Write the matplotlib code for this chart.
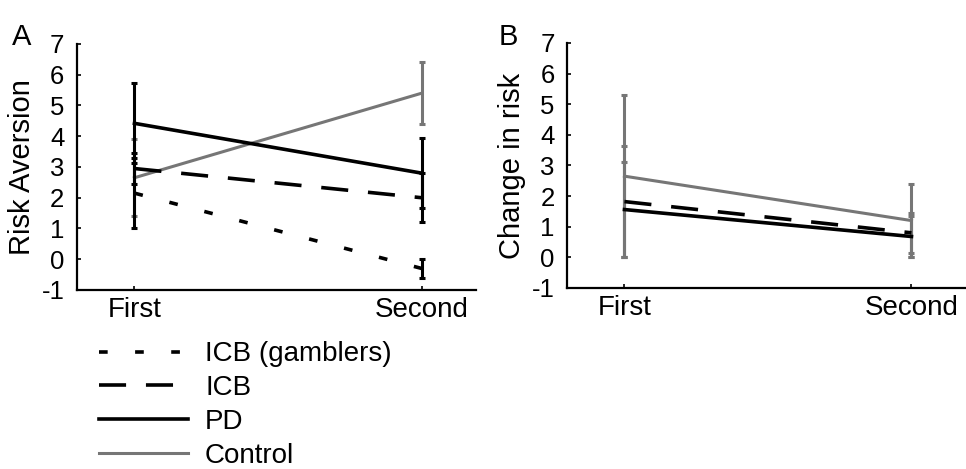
import matplotlib.pyplot as plt
import matplotlib as mpl

mpl.rcParams['font.family'] = ['Liberation Sans', 'DejaVu Sans']
mpl.rcParams['axes.unicode_minus'] = False

sessions = ['First', 'Second']
x = [1, 2]

# panel A: risk aversion
gamb_a = [2.15, -0.3]
gamb_a_err = [1.15, 0.3]
icb_a = [2.95, 2.0]
icb_a_err = [0.5, 0.8]
pd_a = [4.42, 2.8]
pd_a_err = [1.3, 1.15]
ctrl_a = [2.65, 5.4]
ctrl_a_err = [1.25, 1.0]

# panel B: change in risk
icb_b = [1.82, 0.8]
icb_b_err = [1.82, 0.65]
pd_b = [1.56, 0.68]
pd_b_err = [1.56, 0.68]
ctrl_b = [2.65, 1.2]
ctrl_b_err = [2.65, 1.2]

gray = '#767676'
dotted = (0, (2.4, 7.6))
dashed = (0, (7.5, 5.5))

fig = plt.figure(figsize=(9.66, 4.69), dpi=100)
ax1 = fig.add_axes([0.0797, 0.3817, 0.4133, 0.5245])
ax2 = fig.add_axes([0.587, 0.386, 0.413, 0.5225])

def style(ax, ylabel):
    ax.set_xlim(0.8, 2.19)
    ax.set_ylim(-1, 7)
    ax.set_yticks(range(-1, 8))
    ax.set_xticks(x)
    ax.set_xticklabels(sessions)
    for s in ['top', 'right']:
        ax.spines[s].set_visible(False)
    for s in ['left', 'bottom']:
        ax.spines[s].set_linewidth(1.6)
    ax.tick_params(direction='in', length=3, width=1.2)
    ax.tick_params(axis='x', labelsize=20, pad=5)
    ax.tick_params(axis='y', labelsize=18.5, pad=9)
    ax.set_ylabel(ylabel, fontsize=21, labelpad=4)

eb = dict(capsize=2.5, elinewidth=2.2, capthick=2.2)

l1 = ax1.errorbar(x, gamb_a, yerr=gamb_a_err, color='black', lw=2.6, ls=dotted, **eb)
l1[-1][0].set_linestyle('-')
l2 = ax1.errorbar(x, icb_a, yerr=icb_a_err, color='black', lw=2.6, ls=dashed, **eb)
l2[-1][0].set_linestyle('-')
l4 = ax1.errorbar(x, ctrl_a, yerr=ctrl_a_err, color=gray, lw=2.2, zorder=1, **eb)
l3 = ax1.errorbar(x, pd_a, yerr=pd_a_err, color='black', lw=2.6, **eb)
style(ax1, 'Risk Aversion')

b2 = ax2.errorbar(x, icb_b, yerr=icb_b_err, color=gray, ecolor=gray, lw=2.6, ls=dashed, **eb)
b2[0].set_color('black')
b2[-1][0].set_linestyle('-')
b3 = ax2.errorbar(x, pd_b, yerr=pd_b_err, color=gray, lw=2.6, **eb)
b3[0].set_color('black')
ax2.errorbar(x, ctrl_b, yerr=ctrl_b_err, color=gray, lw=2.2, **eb)
style(ax2, 'Change in risk')

fig.text(0.012, 0.905, 'A', fontsize=21)
fig.text(0.516, 0.905, 'B', fontsize=21)

handles = [l1[0], l2[0], l3[0], l4[0]]
labels = ['ICB (gamblers)', 'ICB', 'PD', 'Control']
fig.legend(handles, labels, loc='upper left', bbox_to_anchor=(0.103, 0.272),
           frameon=False, fontsize=20, handlelength=3.2, handletextpad=0.6,
           labelspacing=0.28, borderaxespad=0, borderpad=0)

fig.savefig('out.png', dpi=100)
